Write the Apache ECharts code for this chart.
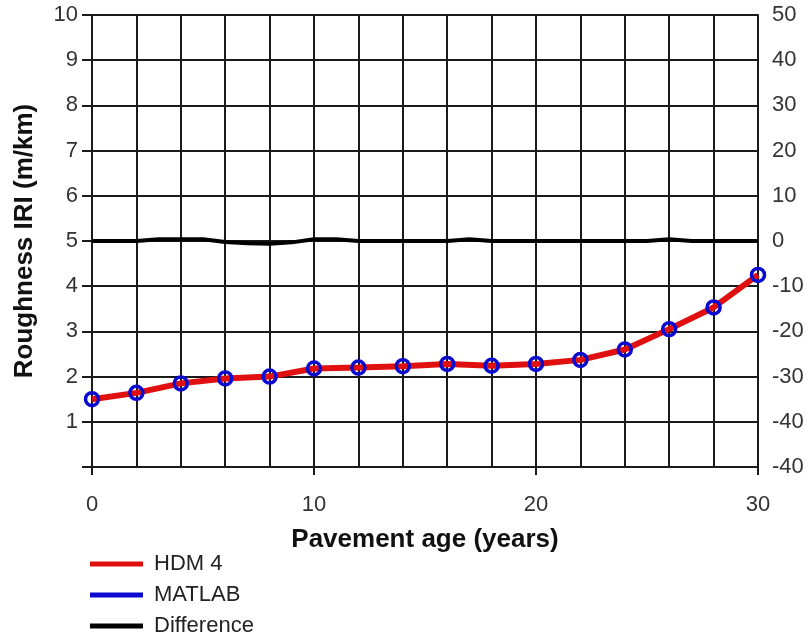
<!DOCTYPE html>
<html>
<head>
<meta charset="utf-8">
<script src="https://cdn.jsdelivr.net/npm/echarts@6/dist/echarts.min.js"></script>
<style>html,body{margin:0;padding:0;background:#fff}#c{width:809px;height:639px}</style>
</head>
<body>
<div id="c"></div>
<script>
var ages = [0,2,4,6,8,10,12,14,16,18,20,22,24,26,28,30];
var hdm4 = [1.5,1.64,1.85,1.96,2.0,2.18,2.2,2.23,2.28,2.24,2.28,2.37,2.6,3.05,3.53,4.25];
var matlab = [1.5,1.64,1.85,1.96,2.0,2.18,2.2,2.23,2.28,2.24,2.28,2.37,2.6,3.05,3.53,4.25];
var diffYears = [0,1,2,3,4,5,6,7,8,9,10,11,12,13,14,15,16,17,18,19,20,21,22,23,24,25,26,27,28,29,30];
var diffValues = [0,0,0,0.4,0.4,0.4,-0.2,-0.5,-0.6,-0.3,0.4,0.4,0,0,0,0,0,0.4,0,0,0,0,0,0,0,0,0.4,0,0,0,0];
var leftTicks = ['', '1','2','3','4','5','6','7','8','9','10'];
var rightTicks = ['-40','-40','-30','-20','-10','0','10','20','30','40','50'];

function pairs(xs, ys){ return xs.map(function(x,i){ return [x, ys[i]]; }); }

var gridColor = '#1a1a1a';
var gw = 2;
var font = 'Liberation Sans, Arial, sans-serif';
var chart = echarts.init(document.getElementById('c'));
chart.setOption({
  animation: false,
  backgroundColor: '#fff',
  grid: {left: 92, right: 51, top: 15, bottom: 172},
  legend: {
    orient: 'vertical', left: 90, top: 553, height: 100, padding: 0,
    icon: 'rect', itemWidth: 53, itemHeight: 5, itemGap: 9,
    textStyle: {fontFamily: font, fontSize: 22, color: '#222', lineHeight: 22, padding: [0,0,0,6]},
    data: [
      {name: 'HDM 4', itemStyle: {color: '#e01010', borderWidth: 0}},
      {name: 'MATLAB', itemStyle: {color: '#0a0ad0', borderWidth: 0}},
      {name: 'Difference', itemStyle: {color: '#000', borderWidth: 0}}
    ]
  },
  xAxis: {
    type: 'value', min: 0, max: 30, interval: 10,
    name: 'Pavement age (years)', nameLocation: 'middle', nameGap: 60,
    nameTextStyle: {fontFamily: font, fontSize: 26, fontWeight: 'bold', color: '#111'},
    axisLine: {show: true, lineStyle: {color: gridColor, width: gw}},
    axisTick: {show: true, inside: false, length: 8, lineStyle: {color: gridColor, width: gw}},
    axisLabel: {margin: 27, fontFamily: font, fontSize: 22, color: '#333'},
    splitLine: {show: true, lineStyle: {color: gridColor, width: gw}},
    minorTick: {show: false, splitNumber: 5},
    minorSplitLine: {show: true, lineStyle: {color: gridColor, width: gw}}
  },
  yAxis: [
    {
      type: 'value', min: 0, max: 10, interval: 1, position: 'left',
      name: 'Roughness IRI (m/km)', nameLocation: 'middle', nameGap: 54,
      nameTextStyle: {fontFamily: font, fontSize: 26, fontWeight: 'bold', color: '#111'},
      axisLine: {show: true, lineStyle: {color: gridColor, width: gw}},
      axisTick: {show: true, inside: false, length: 10, lineStyle: {color: gridColor, width: gw}},
      axisLabel: {margin: 14, fontFamily: font, fontSize: 22, color: '#333',
        formatter: function(v){ return leftTicks[Math.round(v)]; }},
      splitLine: {show: true, lineStyle: {color: gridColor, width: gw}}
    },
    {
      type: 'value', min: -50, max: 50, interval: 10, position: 'right',
      axisLine: {show: true, lineStyle: {color: gridColor, width: gw}},
      axisTick: {show: false},
      axisLabel: {margin: 14, fontFamily: font, fontSize: 22, color: '#333',
        formatter: function(v){ return rightTicks[Math.round((v + 50) / 10)]; }},
      splitLine: {show: false}
    }
  ],
  series: [
    {
      name: 'HDM 4', type: 'line', yAxisIndex: 0, z: 2,
      data: pairs(ages, hdm4),
      showSymbol: false, symbol: 'none',
      lineStyle: {color: '#e01010', width: 6},
      itemStyle: {color: '#e01010'}
    },
    {
      name: 'MATLAB', type: 'line', yAxisIndex: 0, z: 3,
      data: pairs(ages, matlab),
      symbol: 'circle', symbolSize: 13,
      lineStyle: {color: '#0a0ad0', width: 2, opacity: 0},
      itemStyle: {color: 'rgba(0,0,0,0)', borderColor: '#0a0ad0', borderWidth: 3.5}
    },
    {
      name: 'Difference', type: 'line', yAxisIndex: 1, z: 2,
      data: pairs(diffYears, diffValues),
      symbol: 'none',
      lineStyle: {color: '#000', width: 4},
      itemStyle: {color: '#000'}
    }
  ]
});
</script>
</body>
</html>
